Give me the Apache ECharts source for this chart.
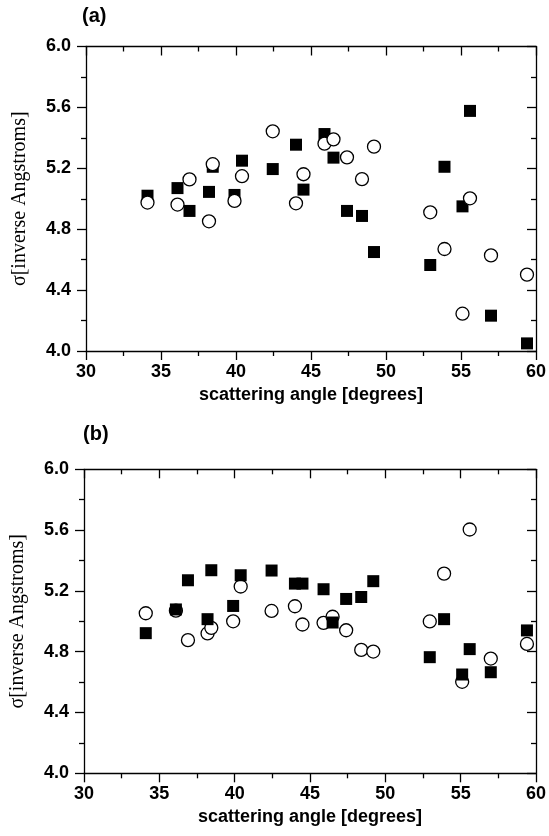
<!DOCTYPE html>
<html>
<head>
<meta charset="utf-8">
<script src="https://cdn.jsdelivr.net/npm/echarts@6/dist/echarts.min.js"></script>
<style>
html,body{margin:0;padding:0;background:#fff;}
#chart{width:549px;height:836px;}
</style>
</head>
<body>
<div id="chart"></div>
<script>
// scattering angles (degrees), shared by both panels
var angles = [34.1, 36.1, 36.9, 38.2, 38.45, 39.9, 40.4, 42.45, 44.0, 44.5, 45.9, 46.5, 47.4, 48.4, 49.2, 52.95, 53.9, 55.1, 55.6, 57.0, 59.4];
// panel (a)
var aSquares = [5.02, 5.07, 4.92, 5.045, 5.21, 5.025, 5.25, 5.195, 5.355, 5.06, 5.425, 5.27, 4.92, 4.887, 4.65, 4.565, 5.21, 4.95, 5.577, 4.232, 4.05];
var aCircles = [4.975, 4.962, 5.127, 4.852, 5.227, 4.986, 5.148, 5.443, 4.97, 5.161, 5.362, 5.39, 5.272, 5.129, 5.342, 4.911, 4.67, 4.245, 5.003, 4.628, 4.502];
// panel (b)
var bSquares = [4.922, 5.078, 5.27, 5.014, 5.336, 5.101, 5.303, 5.334, 5.248, 5.248, 5.211, 4.992, 5.147, 5.16, 5.264, 4.764, 5.014, 4.65, 4.817, 4.665, 4.94];
var bCircles = [5.053, 5.07, 4.876, 4.92, 4.957, 5.0, 5.229, 5.068, 5.099, 4.979, 4.99, 5.03, 4.941, 4.812, 4.801, 4.999, 5.314, 4.602, 5.604, 4.755, 4.851];
// axis ranges / ticks
var xMin = 30, xMax = 60, xStep = 5;
var yMin = 4.0, yMax = 6.0, yStep = 0.4;
var panelLabels = ['(a)', '(b)'];
var xTitle = 'scattering angle [degrees]';
var yTitle = 'σ[inverse Angstroms]';

function pairs(xs, ys) { return xs.map(function (x, i) { return [x, ys[i]]; }); }

var lineStyle = { color: '#000', width: 1.3 };
var labelFont = { fontFamily: 'Liberation Sans, Arial', fontWeight: 'bold', fontSize: 18, color: '#000' };

function xAxes(gi) {
  return [
    { gridIndex: gi, type: 'value', min: xMin, max: xMax, interval: xStep, position: 'bottom',
      axisLine: { show: true, onZero: false, lineStyle: lineStyle },
      axisTick: { show: true, inside: false, length: 9, lineStyle: lineStyle },
      minorTick: { show: true, splitNumber: 2, length: 5, lineStyle: lineStyle },
      splitLine: { show: false },
      axisLabel: Object.assign({ margin: 12 }, labelFont),
      name: xTitle, nameLocation: 'middle', nameGap: 35,
      nameTextStyle: { fontFamily: 'Liberation Sans, Arial', fontWeight: 'bold', fontSize: 18, color: '#000' } },
    { gridIndex: gi, type: 'value', min: xMin, max: xMax, interval: xStep, position: 'top',
      axisLine: { show: true, onZero: false, lineStyle: lineStyle },
      axisTick: { show: true, inside: true, length: 9, lineStyle: lineStyle },
      minorTick: { show: true, splitNumber: 2, length: 5, lineStyle: lineStyle },
      splitLine: { show: false }, axisLabel: { show: false } }
  ];
}
function yAxes(gi) {
  return [
    { gridIndex: gi, type: 'value', min: yMin, max: yMax, interval: yStep, position: 'left',
      axisLine: { show: true, onZero: false, lineStyle: lineStyle },
      axisTick: { show: true, inside: false, length: 9, lineStyle: lineStyle },
      minorTick: { show: true, splitNumber: 2, length: 5, lineStyle: lineStyle },
      splitLine: { show: false },
      axisLabel: Object.assign({ margin: 15, formatter: function (v) { return v.toFixed(1); } }, labelFont),
      name: yTitle, nameLocation: 'middle', nameRotate: 90, nameGap: 56,
      nameTextStyle: { fontFamily: 'Liberation Serif, Times New Roman', fontSize: 20, color: '#000' } },
    { gridIndex: gi, type: 'value', min: yMin, max: yMax, interval: yStep, position: 'right',
      axisLine: { show: true, onZero: false, lineStyle: lineStyle },
      axisTick: { show: true, inside: true, length: 9, lineStyle: lineStyle },
      minorTick: { show: true, splitNumber: 2, length: 5, lineStyle: lineStyle },
      splitLine: { show: false }, axisLabel: { show: false } }
  ];
}

var squareStyle = { color: '#000', opacity: 1 };
var circleStyle = { color: '#fff', borderColor: '#000', borderWidth: 1.3, opacity: 1 };

var option = {
  backgroundColor: '#fff',
  animation: false,
  grid: [
    { left: 86, top: 46.5, width: 453.5, height: 304.5 },
    { left: 83.3, top: 469.3, width: 453.2, height: 304 }
  ],
  xAxis: xAxes(0).concat(xAxes(1)),
  yAxis: yAxes(0).concat(yAxes(1)),
  graphic: [
    { type: 'text', left: 82, top: 6, style: { text: panelLabels[0], font: 'bold 20px "Liberation Sans", Arial', fill: '#000' } },
    { type: 'text', left: 83, top: 424, style: { text: panelLabels[1], font: 'bold 20px "Liberation Sans", Arial', fill: '#000' } }
  ],
  series: [
    { type: 'scatter', xAxisIndex: 0, yAxisIndex: 0, symbol: 'rect', symbolSize: 12, itemStyle: squareStyle, data: pairs(angles, aSquares), z: 2 },
    { type: 'scatter', xAxisIndex: 0, yAxisIndex: 0, symbol: 'circle', symbolSize: 13, itemStyle: circleStyle, data: pairs(angles, aCircles), z: 3 },
    { type: 'scatter', xAxisIndex: 2, yAxisIndex: 2, symbol: 'circle', symbolSize: 13, itemStyle: circleStyle, data: pairs(angles, bCircles), z: 2 },
    { type: 'scatter', xAxisIndex: 2, yAxisIndex: 2, symbol: 'rect', symbolSize: 12, itemStyle: squareStyle, data: pairs(angles, bSquares), z: 3 }
  ]
};

var chart = echarts.init(document.getElementById('chart'), null, { renderer: 'canvas' });
chart.setOption(option);
</script>
</body>
</html>
